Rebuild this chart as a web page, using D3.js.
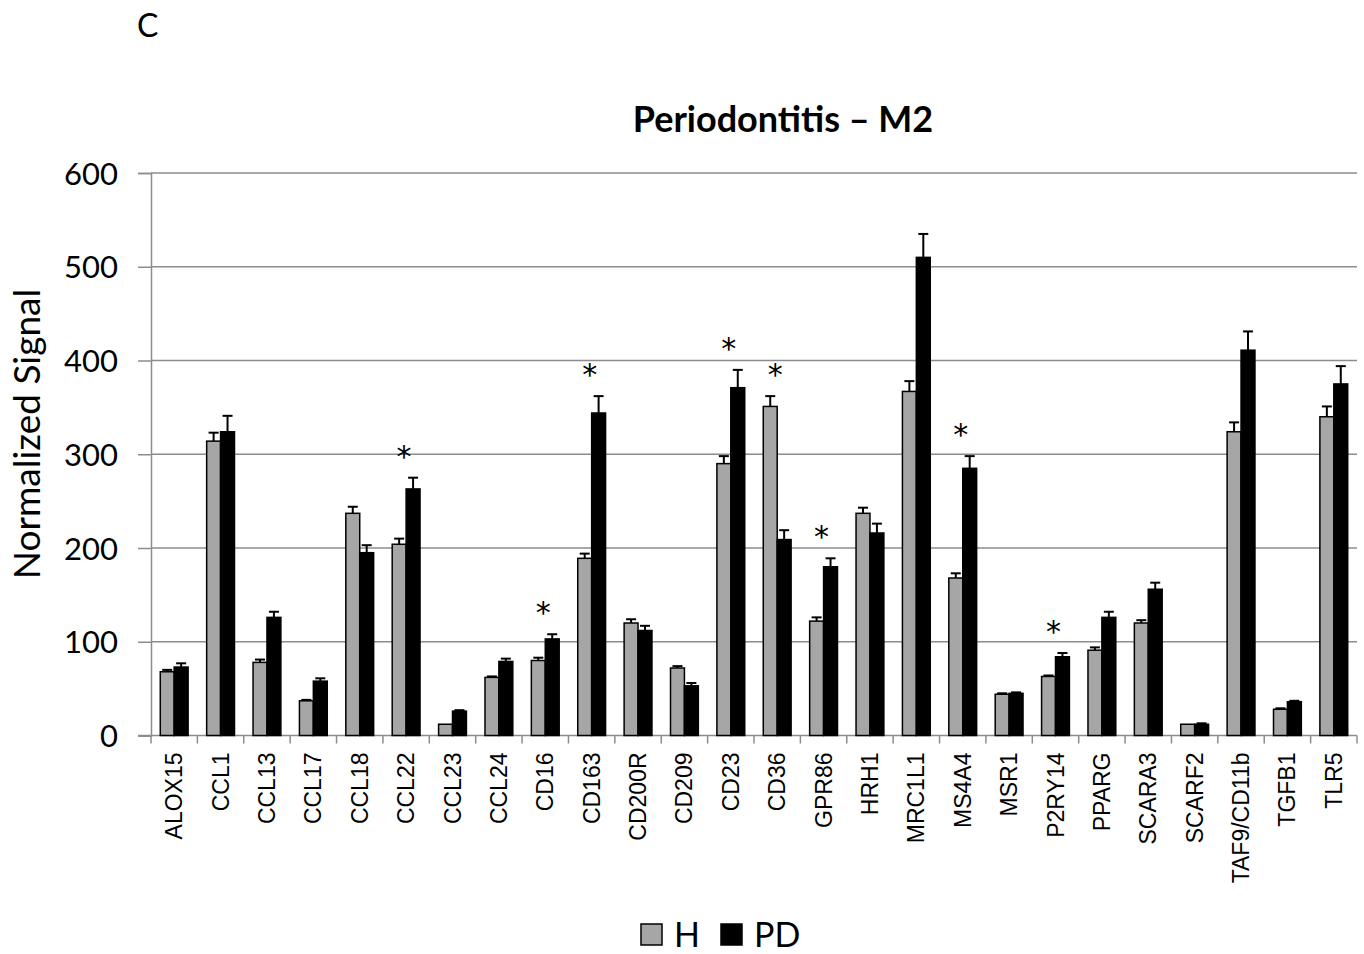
<!DOCTYPE html>
<html>
<head>
<meta charset="utf-8">
<script src="https://cdn.jsdelivr.net/npm/d3@7/dist/d3.min.js"></script>
<style>
  html, body { margin: 0; padding: 0; background: #fff; }
  svg { display: block; }
</style>
</head>
<body>
<svg id="chart" width="1364" height="954"></svg>
<script>
const categories = ["ALOX15","CCL1","CCL13","CCL17","CCL18","CCL22","CCL23","CCL24","CD16","CD163","CD200R","CD209","CD23","CD36","GPR86","HRH1","MRC1L1","MS4A4","MSR1","P2RY14","PPARG","SCARA3","SCARF2","TAF9/CD11b","TGFB1","TLR5"];
const hValues  = [68,314,78,37,237,204,12,62,80,189,120,72,290,351,122,237,367,168,44,63,91,120,12,324,28,340];
const pdValues = [73,324,126,58,195,263,26,79,103,344,112,53,371,209,180,216,510,285,45,84,126,156,12,411,36,375];
const hErrors  = [2,9,3,1,7,6,0,1,3,5,4,2,8,11,4,6,11,5,1,1,3,3,0,10,1,11];
const pdErrors = [4,17,6,3,8,12,1,3,5,18,5,3,19,10,9,10,25,13,1,4,6,7,1,20,1,19];
const starred  = ["CCL22","CD16","CD163","CD23","CD36","GPR86","MS4A4","P2RY14"];
const seriesNames = ["H","PD"];
const yTicks = [0,100,200,300,400,500,600];
const titleText = "Periodontitis \u2013 M2";
const yLabelText = "Normalized Signal";
const panelLetter = "C";

(function draw() {
const seriesColors = {H: "#a6a6a6", PD: "#000000"};
const humanist = "Lato, 'Open Sans', sans-serif";
const svg = d3.select("#chart");

const pLeft = 151, pRight = 1357, pTop = 173, pBottom = 735.5;
const pIn = 0.4, pOut = 0.2;
const x = d3.scaleBand().domain(categories).range([pLeft, pRight]).paddingInner(pIn).paddingOuter(pOut);
const xs = d3.scaleBand().domain(seriesNames).range([0, x.bandwidth()]);
const y = d3.scaleLinear().domain([0, 600]).range([pBottom, pTop]);
const step = x.step();

// gridlines
svg.append("g").selectAll("line").data(yTicks.filter(d => d > 0)).join("line")
  .attr("x1", pLeft).attr("x2", pRight)
  .attr("y1", d => y(d)).attr("y2", d => y(d))
  .attr("stroke", "#8c8c8c").attr("stroke-width", 1.5);

// y axis
const yAxis = d3.axisLeft(y).tickValues(yTicks).tickSize(13).tickPadding(20);
const gy = svg.append("g").attr("transform", `translate(${pLeft},0)`).call(yAxis);
gy.select(".domain").attr("stroke", "#8c8c8c").attr("stroke-width", 1.5);
gy.selectAll(".tick line").attr("stroke", "#8c8c8c").attr("stroke-width", 1.5);
gy.selectAll(".tick text").attr("font-family", humanist).attr("font-size", 31).attr("fill", "#000").attr("dy", "0.36em");

// x axis baseline + boundary ticks
const boundaries = categories.map(c => x(c) - pIn * step / 2).concat([pRight]);
svg.append("line").attr("x1", pLeft - 13).attr("x2", pRight).attr("y1", pBottom).attr("y2", pBottom)
  .attr("stroke", "#8c8c8c").attr("stroke-width", 1.5);
svg.append("g").selectAll("line").data(boundaries).join("line")
  .attr("x1", d => d).attr("x2", d => d).attr("y1", pBottom).attr("y2", pBottom + 8)
  .attr("stroke", "#8c8c8c").attr("stroke-width", 1.5);

// x labels
svg.append("g").selectAll("text").data(categories).join("text")
  .attr("transform", d => `translate(${x(d) + x.bandwidth() / 2 + 8},${pBottom + 17}) rotate(-90)`)
  .attr("text-anchor", "end")
  .attr("font-family", "'Liberation Sans', Arial, sans-serif")
  .attr("font-size", 23).attr("fill", "#000")
  .text(d => d);

// bars
const rows = categories.map((c, i) => ({
  cat: c,
  items: [
    {s: "H", v: hValues[i], e: hErrors[i]},
    {s: "PD", v: pdValues[i], e: pdErrors[i]}
  ]
}));
const groups = svg.append("g").selectAll("g").data(rows).join("g")
  .attr("transform", d => `translate(${x(d.cat)},0)`);
groups.selectAll("rect").data(d => d.items).join("rect")
  .attr("x", d => xs(d.s)).attr("width", xs.bandwidth())
  .attr("y", d => y(d.v)).attr("height", d => y(0) - y(d.v))
  .attr("fill", d => seriesColors[d.s]).attr("stroke", "#000").attr("stroke-width", 1.5);
// error bars
const eb = groups.selectAll("g.err").data(d => d.items.filter(it => it.e > 0)).join("g").attr("class", "err");
eb.append("line")
  .attr("x1", d => xs(d.s) + xs.bandwidth() / 2).attr("x2", d => xs(d.s) + xs.bandwidth() / 2)
  .attr("y1", d => y(d.v)).attr("y2", d => y(d.v + d.e))
  .attr("stroke", "#000").attr("stroke-width", 2);
eb.append("line")
  .attr("x1", d => xs(d.s) + xs.bandwidth() / 2 - 5).attr("x2", d => xs(d.s) + xs.bandwidth() / 2 + 5)
  .attr("y1", d => y(d.v + d.e)).attr("y2", d => y(d.v + d.e))
  .attr("stroke", "#000").attr("stroke-width", 2);

// significance stars
svg.append("g").selectAll("text").data(starred).join("text")
  .attr("x", d => x(d) + x.bandwidth() / 2 - 2)
  .attr("y", d => {
    const i = categories.indexOf(d);
    const m = Math.max(hValues[i] + hErrors[i], pdValues[i] + pdErrors[i]);
    return y(m) - 11;
  })
  .attr("text-anchor", "middle")
  .attr("font-family", "'DejaVu Sans', sans-serif").attr("font-size", 30).attr("fill", "#000")
  .text("*");

// title
svg.append("text").attr("x", 783).attr("y", 132).attr("text-anchor", "middle")
  .attr("font-family", humanist).attr("font-weight", "bold").attr("font-size", 36).attr("fill", "#000")
  .text(titleText);

// y label
svg.append("text").attr("transform", `translate(40,434) rotate(-90)`).attr("text-anchor", "middle")
  .attr("font-family", humanist).attr("font-size", 37).attr("fill", "#000")
  .text(yLabelText);

// panel letter
svg.append("text").attr("x", 137).attr("y", 37)
  .attr("font-family", humanist).attr("font-size", 32).attr("fill", "#000")
  .text(panelLetter);

// legend
const legend = svg.append("g").attr("transform", "translate(641,924)");
const legX = {H: 0, PD: 80};
seriesNames.forEach(s => {
  const g = legend.append("g").attr("transform", `translate(${legX[s]},0)`);
  g.append("rect").attr("x", 0).attr("y", 0).attr("width", 21).attr("height", 21)
    .attr("fill", seriesColors[s]).attr("stroke", "#000").attr("stroke-width", 1.5);
  g.append("text").attr("x", 33).attr("y", 23)
    .attr("font-family", humanist).attr("font-size", 34).attr("fill", "#000").text(s);
});
})();
</script>
</body>
</html>
